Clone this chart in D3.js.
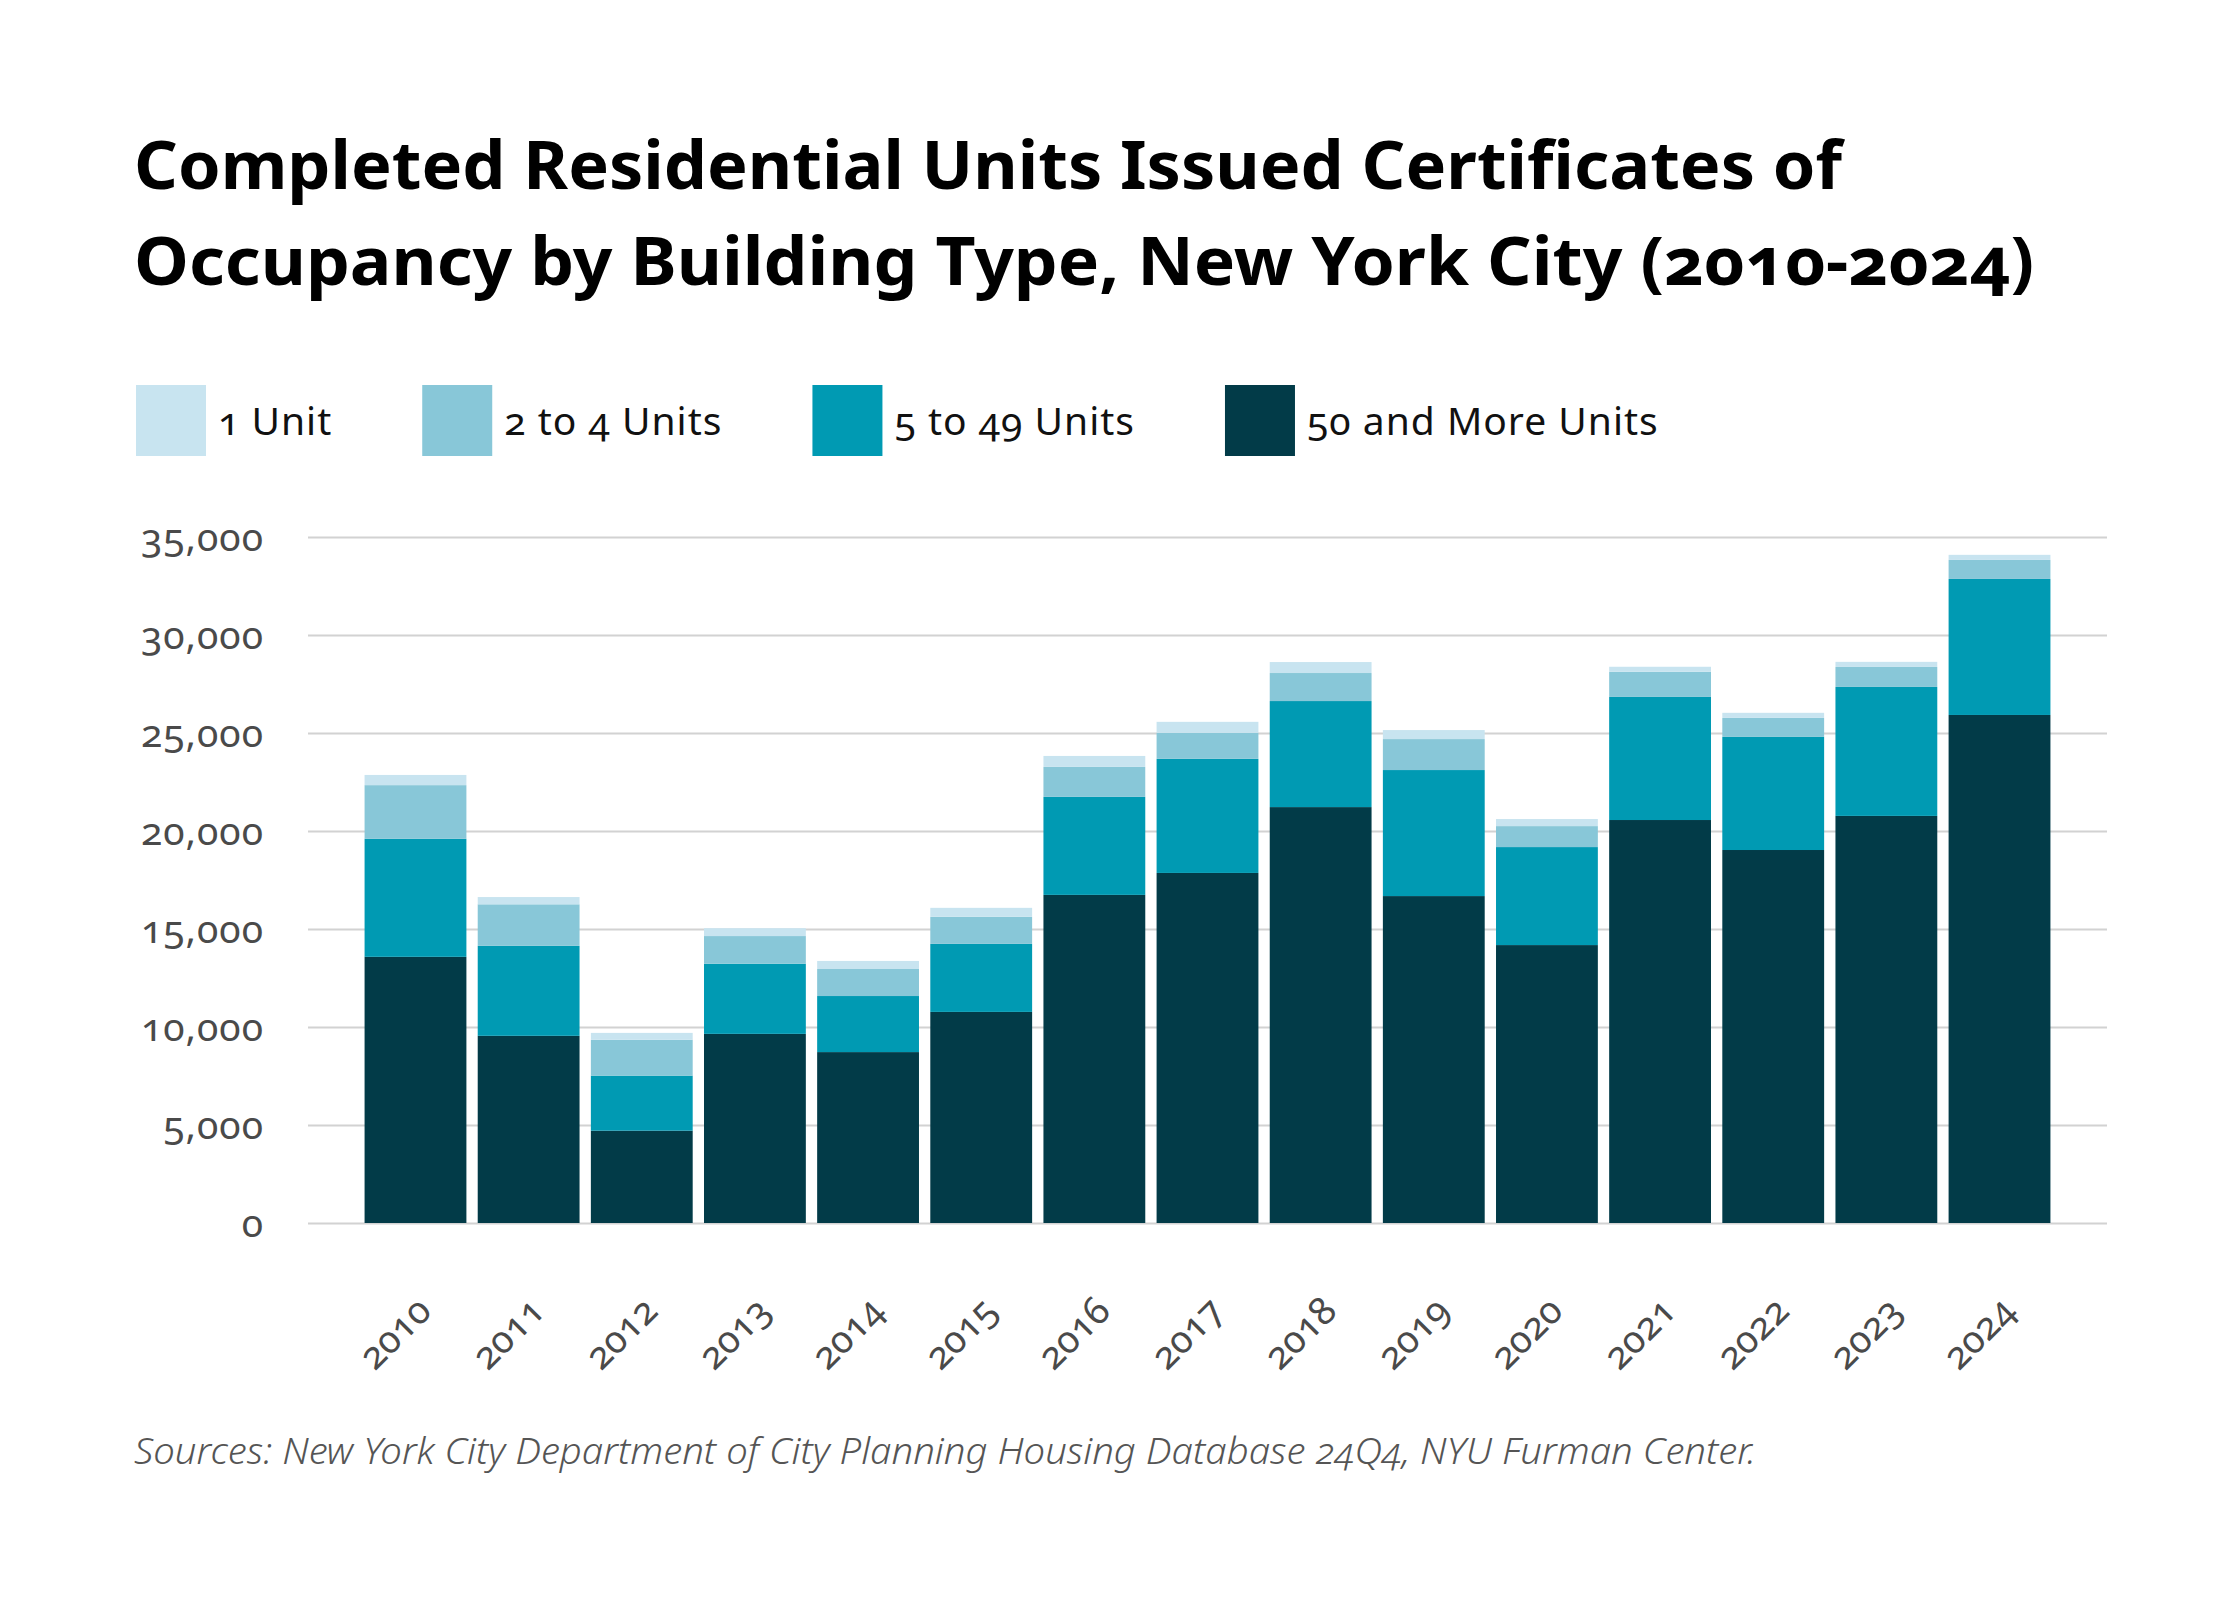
<!DOCTYPE html>
<html>
<head>
<meta charset="utf-8">
<script src="https://cdn.jsdelivr.net/npm/d3@7"></script>
<style>
  body { margin: 0; background: #fff; }
  svg text { font-family: "Noto Sans", "Open Sans", sans-serif; font-variant-numeric: oldstyle-nums; font-feature-settings: "onum" 1; }
</style>
</head>
<body>
<svg width="2240" height="1600"></svg>
<script>
const years = ["2010","2011","2012","2013","2014","2015","2016","2017","2018","2019","2020","2021","2022","2023","2024"];
const seriesKeys = ["50 and More Units", "5 to 49 Units", "2 to 4 Units", "1 Unit"];
const legendOrder = ["1 Unit", "2 to 4 Units", "5 to 49 Units", "50 and More Units"];

const units50plus = [13580, 9550, 4710, 9650, 8720, 10770, 16740, 17860, 21220, 16680, 14180, 20560, 19030, 20770, 25920];
const units5to49  = [6020, 4590, 2810, 3580, 2860, 3470, 5000, 5820, 5410, 6430, 5000, 6280, 5770, 6580, 6940];
const units2to4   = [2740, 2120, 1830, 1410, 1380, 1380, 1530, 1330, 1430, 1580, 1070, 1280, 970, 1020, 970];
const units1      = [520, 370, 350, 400, 410, 460, 560, 560, 560, 460, 360, 260, 260, 260, 260];

const yTicks = [0, 5000, 10000, 15000, 20000, 25000, 30000, 35000];

const colors = {
  "1 Unit": "#c8e4f0",
  "2 to 4 Units": "#88c7d8",
  "5 to 49 Units": "#009ab3",
  "50 and More Units": "#023b48"
};

const rows = years.map((y, i) => ({
  year: y,
  "50 and More Units": units50plus[i],
  "5 to 49 Units": units5to49[i],
  "2 to 4 Units": units2to4[i],
  "1 Unit": units1[i]
}));

const svg = d3.select("svg");

// title
const title = svg.append("g")
  .attr("font-weight", "bold")
  .attr("font-size", "67px")
  .attr("fill", "#000");
title.append("text")
  .attr("x", 134).attr("y", 189)
  .attr("textLength", 1708).attr("lengthAdjust", "spacingAndGlyphs")
  .text("Completed Residential Units Issued Certificates of");
title.append("text")
  .attr("x", 134).attr("y", 285)
  .attr("textLength", 1900).attr("lengthAdjust", "spacingAndGlyphs")
  .text("Occupancy by Building Type, New York City (2010-2024)");

// legend
const legend = svg.append("g").attr("transform", "translate(136, 385)");
let lx = 0;
legendOrder.forEach(k => {
  const item = legend.append("g").attr("transform", `translate(${lx}, 0)`);
  item.append("rect")
    .attr("width", 70).attr("height", 71)
    .attr("fill", colors[k]);
  const t = item.append("text")
    .attr("x", 82).attr("y", 50)
    .attr("font-size", "39px")
    .attr("letter-spacing", "1px")
    .attr("fill", "#111")
    .text(k);
  lx += 82 + t.node().getComputedTextLength() + 90;
});

// chart
const plotLeft = 308, plotRight = 2107, plotTop = 537, plotBottom = 1223;

const x = d3.scaleBand()
  .domain(years)
  .range([plotLeft, plotRight])
  .paddingInner(0.1)
  .paddingOuter(0.5);

const y = d3.scaleLinear()
  .domain([0, 35000])
  .range([plotBottom, plotTop]);

const yAxis = svg.append("g")
  .attr("transform", `translate(${plotLeft}, 0)`)
  .call(d3.axisLeft(y).tickValues(yTicks).tickSize(-(plotRight - plotLeft)).tickPadding(44).tickFormat(d3.format(",")));
yAxis.select(".domain").remove();
yAxis.selectAll(".tick line").attr("stroke", "#d2d2d2").attr("stroke-width", 2);
yAxis.selectAll(".tick text")
  .attr("font-size", "39px")
  .attr("letter-spacing", "1px")
  .attr("fill", "#4a4a4a")
  .attr("dy", "0.34em");

const stack = d3.stack().keys(seriesKeys)(rows);

svg.append("g")
  .selectAll("g")
  .data(stack)
  .join("g")
  .attr("fill", d => colors[d.key])
  .selectAll("rect")
  .data(d => d)
  .join("rect")
  .attr("x", d => x(d.data.year))
  .attr("width", x.bandwidth())
  .attr("y", d => y(d[1]))
  .attr("height", d => y(d[0]) - y(d[1]));

const xAxis = svg.append("g")
  .attr("transform", `translate(0, ${plotBottom})`)
  .call(d3.axisBottom(x).tickSize(0).tickPadding(0));
xAxis.select(".domain").remove();
xAxis.selectAll(".tick text")
  .attr("font-size", "38px")
  .attr("fill", "#4a4a4a")
  .attr("y", 0)
  .attr("dy", 0)
  .attr("text-anchor", "end")
  .attr("transform", "translate(18, 90) rotate(-45)");

// source
svg.append("text")
  .attr("x", 134).attr("y", 1464)
  .attr("font-size", "36px")
  .attr("font-style", "italic")
  .attr("font-weight", 300)
  .attr("fill", "#555")
  .attr("textLength", 1622).attr("lengthAdjust", "spacingAndGlyphs")
  .text("Sources: New York City Department of City Planning Housing Database 24Q4, NYU Furman Center.");
</script>
</body>
</html>
